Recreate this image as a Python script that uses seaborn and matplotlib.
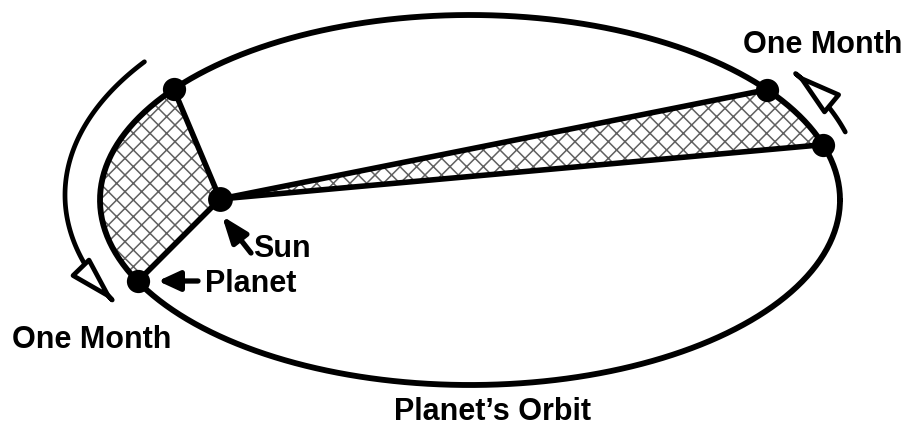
import numpy as np
import pandas as pd
import seaborn as sns
import matplotlib.pyplot as plt
from matplotlib.patches import Polygon, FancyArrowPatch
from matplotlib.path import Path

# Orbit geometry (pixel space, y grows downward)
orbit_center = [470, 200]
orbit_axes = [370, 185]
sun_pos = [220, 199]

# planet positions as eccentric angle on the orbit (degrees)
planet_names = ["near_start", "near_end", "far_start", "far_end"]
planet_angles = [143.2, 206.1, 36.6, 17.4]

# direction arcs outside the orbit: center, semi axes, start / end angle
arc_left = [470, 195, 405, 224, 143.5, 208.5]
arc_right = [470, 195, 392, 218, 16.8, 34.0]

labels = ["One Month", "One Month", "Sun", "Planet", "Planet\u2019s Orbit"]
label_xy = [(743, 53), (12, 348), (253, 257), (205, 292), (492, 420)]
label_ha = ["left", "left", "left", "left", "center"]


def on_orbit(t_deg, cx=orbit_center[0], cy=orbit_center[1],
             a=orbit_axes[0], b=orbit_axes[1]):
    t = np.radians(t_deg)
    return cx + a * np.cos(t), cy - b * np.sin(t)


def arc(cx, cy, a, b, t0, t1, n=120):
    t = np.radians(np.linspace(t0, t1, n))
    return np.column_stack([cx + a * np.cos(t), cy - b * np.sin(t)])


sns.set_theme(style="white")
plt.rcParams["font.family"] = ["Liberation Sans", "DejaVu Sans"]
plt.rcParams["hatch.linewidth"] = 1.1

fig = plt.figure(figsize=(9.24, 4.28), dpi=100)
ax = fig.add_axes([0, 0, 1, 1])

pts = pd.DataFrame({
    "name": planet_names,
    "x": [on_orbit(t)[0] for t in planet_angles],
    "y": [on_orbit(t)[1] for t in planet_angles],
})

# swept areas
for t0, t1 in [(planet_angles[0], planet_angles[1]), (planet_angles[3], planet_angles[2])]:
    edge = arc(orbit_center[0], orbit_center[1], orbit_axes[0], orbit_axes[1], t0, t1)
    poly = np.vstack([[sun_pos], edge])
    ax.add_patch(Polygon(poly, closed=True, facecolor="white", edgecolor="#606060",
                         linewidth=0, hatch="xx", zorder=1))

# orbit
full = arc(orbit_center[0], orbit_center[1], orbit_axes[0], orbit_axes[1], 0, 360, 400)
ax.plot(full[:, 0], full[:, 1], color="black", lw=4.2, zorder=2)

# radius lines sun -> planet
for _, r in pts.iterrows():
    ax.plot([sun_pos[0], r["x"]], [sun_pos[1], r["y"]], color="black", lw=4.0,
            solid_capstyle="round", zorder=3)

# dots
sns.scatterplot(data=pts, x="x", y="y", color="black", s=280, edgecolor="black",
                linewidth=0, zorder=4, ax=ax, legend=False)
ax.scatter([sun_pos[0]], [sun_pos[1]], color="black", s=320, linewidth=0, zorder=4)

# direction arcs with open heads
for spec in [arc_left, arc_right]:
    verts = arc(*spec)
    arrow = FancyArrowPatch(path=Path(verts),
                            arrowstyle="-|>,head_length=28,head_width=8",
                            mutation_scale=1, facecolor="white", edgecolor="black",
                            lw=3.4, zorder=3)
    ax.add_patch(arrow)

# small pointer arrows
ax.annotate("", xy=(222, 216), xytext=(251, 253),
            arrowprops=dict(arrowstyle="-|>,head_length=16,head_width=6",
                            mutation_scale=1, color="black", lw=3.8,
                            shrinkA=0, shrinkB=0), zorder=5)
ax.annotate("", xy=(158, 281), xytext=(198, 281),
            arrowprops=dict(arrowstyle="-|>,head_length=13,head_width=6",
                            mutation_scale=1, color="black", lw=3.8,
                            shrinkA=0, shrinkB=0), zorder=5)

for txt, (x, y), ha in zip(labels, label_xy, label_ha):
    ax.text(x, y, txt, ha=ha, va="baseline", fontsize=22, fontweight="bold",
            color="black", zorder=6)

ax.set_xlim(0, 924)
ax.set_ylim(428, 0)
ax.axis("off")

fig.savefig("out.png", dpi=100)
